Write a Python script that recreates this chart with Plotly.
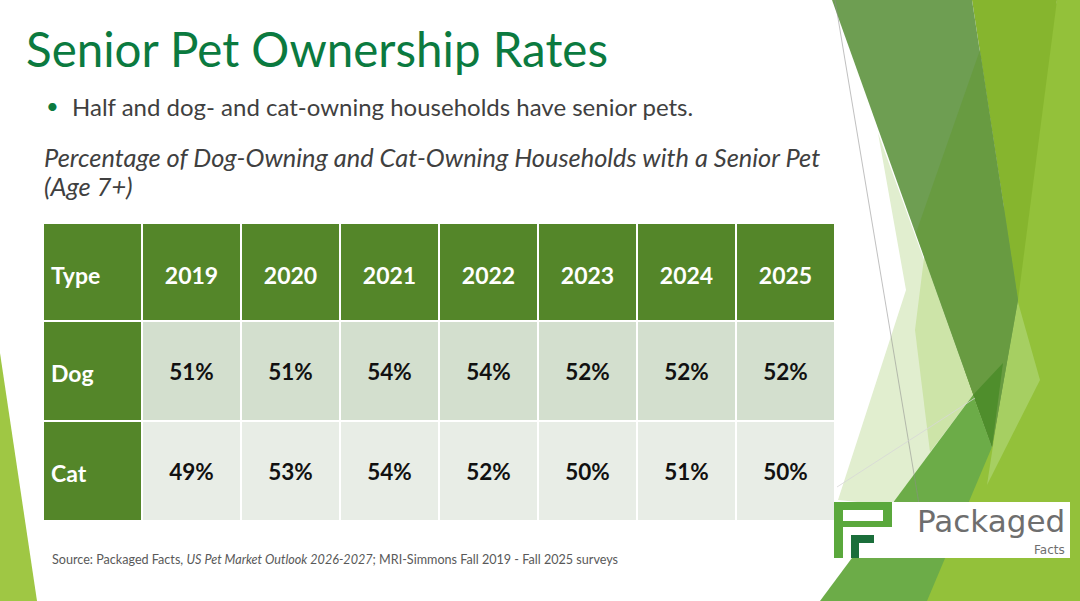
import plotly.graph_objects as go

W, H = 1080, 601

# ---------------- data ----------------
title_text = "Senior Pet Ownership Rates"
bullet_text = "Half and dog- and cat-owning households have senior pets."
subtitle_lines = ["Percentage of Dog-Owning and Cat-Owning Households with a Senior Pet", "(Age 7+)"]
source_text = ("Source: Packaged Facts, <i>US Pet Market Outlook 2026-2027</i>; "
               "MRI-Simmons Fall 2019 - Fall 2025 surveys")

header_label = "Type"
years = ["2019", "2020", "2021", "2022", "2023", "2024", "2025"]
pet_types = ["Dog", "Cat"]
dog_pct = [51, 51, 54, 54, 52, 52, 52]
cat_pct = [49, 53, 54, 52, 50, 51, 50]

# ---------------- styling ----------------
FONT = "Lato"
GREEN_HDR = "#548629"
DOG_FILL = "#d3dfce"
CAT_FILL = "#e8ede6"
SPACER = "\u00a0<br>"   # leading blank line to centre text vertically in the tall rows


def px(x):
    return x / W


def py(y):
    return 1 - y / H


def poly(points, color, opacity=1.0):
    d = "M " + " L ".join(f"{px(x):.5f},{py(y):.5f}" for x, y in points) + " Z"
    return dict(type="path", xref="paper", yref="paper", path=d,
                fillcolor=color, opacity=opacity, line=dict(width=0), layer="above")


def line(p0, p1, color, width=1):
    return dict(type="line", xref="paper", yref="paper",
                x0=px(p0[0]), y0=py(p0[1]), x1=px(p1[0]), y1=py(p1[1]),
                line=dict(color=color, width=width), layer="above")


def rect(x0, y0, x1, y1, color):
    return dict(type="rect", xref="paper", yref="paper",
                x0=px(x0), x1=px(x1), y0=py(y1), y1=py(y0),
                fillcolor=color, line=dict(width=0), layer="above")


# ---------------- table ----------------
pct_cols = [[f"{d}%", f"{c}%"] for d, c in zip(dog_pct, cat_pct)]
cell_values = [[SPACER + t for t in pet_types]] + [[SPACER + v for v in col] for col in pct_cols]
ncols = len(years) + 1

fig = go.Figure(go.Table(
    domain=dict(x=[px(43), px(836)], y=[py(522), py(223)]),
    columnwidth=[1] * ncols,
    header=dict(
        values=[SPACER + header_label] + [SPACER + y for y in years],
        fill_color=GREEN_HDR,
        line=dict(color="white", width=2),
        align=["left"] + ["center"] * len(years),
        font=dict(family=FONT, size=23, color="white", weight="bold"),
        height=98,
    ),
    cells=dict(
        values=cell_values,
        fill_color=[[GREEN_HDR] * 2] + [[DOG_FILL, CAT_FILL]] * len(years),
        line=dict(color="white", width=2),
        align=["left"] + ["center"] * len(years),
        font=dict(family=FONT, size=[23] + [22.5] * len(years),
                  color=[["white"] * 2] + [["#111111"] * 2] * len(years),
                  weight="bold"),
        height=100,
    ),
))

# ---------------- decorations ----------------
shapes = [
    poly([(0, 353), (37, 601), (0, 601)], "#9fc744"),
    poly([(1057, 0), (1080, 0), (1080, 601), (905, 601)], "#93c13a"),
    poly([(972, 0), (1057, 0), (1018, 300)], "#86b52e"),
    poly([(878, 133), (992, 447), (887, 505), (838, 500), (906, 290)], "#e1eecf"),
    poly([(925, 250), (973, 395), (930, 452), (915, 330)], "#cde4a8"),
    poly([(1016, 295), (1040, 380), (987, 485)], "#a6cf62"),
    poly([(973, 395), (992, 447), (927, 601), (820, 601)], "#6cac48"),
    poly([(832, 0), (972, 0), (1018, 300), (992, 447)], "#6e9e52"),
    poly([(980, 50), (1018, 300), (992, 447), (916, 233)], "#689b41"),
    poly([(973, 395), (1003, 363), (992, 447)], "#4f8e2c"),
    line((835, 0), (925, 540), "rgba(140,140,140,0.55)"),
    line((837, 487), (975, 398), "rgba(215,215,215,0.8)"),
    # logo
    rect(834, 502, 1070, 558, "white"),
    poly([(834, 502), (892, 502), (892, 527), (843, 527), (843, 558), (834, 558)], "#5aa83c"),
    rect(843, 510, 883, 521, "white"),
    poly([(851, 535), (874, 535), (874, 543), (859, 543), (859, 558), (851, 558)], "#1b6e3b"),
]

annotations = [
    dict(text=title_text, x=px(24), y=py(48), xanchor="left", yanchor="middle",
         font=dict(family=FONT, size=47.5, color="#0b7a3f")),
    dict(text="•", x=px(44), y=py(105), xanchor="left", yanchor="middle",
         font=dict(family=FONT, size=22, color="#0b7a3f")),
    dict(text=bullet_text, x=px(70), y=py(106), xanchor="left", yanchor="middle",
         font=dict(family=FONT, size=24, color="#404040")),
    dict(text=f"<i>{subtitle_lines[0]}</i>", x=px(42), y=py(157), xanchor="left", yanchor="middle",
         font=dict(family=FONT, size=25.4, color="#404040")),
    dict(text=f"<i>{subtitle_lines[1]}</i>", x=px(42), y=py(186), xanchor="left", yanchor="middle",
         font=dict(family=FONT, size=25.4, color="#404040")),
    dict(text=source_text, x=px(50), y=py(559), xanchor="left", yanchor="middle",
         font=dict(family=FONT, size=12.6, color="#595959")),
    dict(text="Packaged", x=px(1067), y=py(521), xanchor="right", yanchor="middle",
         font=dict(family="DejaVu Sans", size=31, color="#6e6e6e")),
    dict(text="Facts", x=px(1067), y=py(550), xanchor="right", yanchor="middle",
         font=dict(family="DejaVu Sans", size=12, color="#6e6e6e")),
]
for a in annotations:
    a.update(xref="paper", yref="paper", showarrow=False)

fig.update_layout(
    width=W, height=H,
    margin=dict(l=0, r=0, t=0, b=0),
    paper_bgcolor="white", plot_bgcolor="white",
    shapes=shapes, annotations=annotations,
    font=dict(family=FONT),
)

fig.write_html("out.html",
               config={"displayModeBar": False},
               post_script="document.body.style.margin='0px';document.body.style.overflow='hidden';")
